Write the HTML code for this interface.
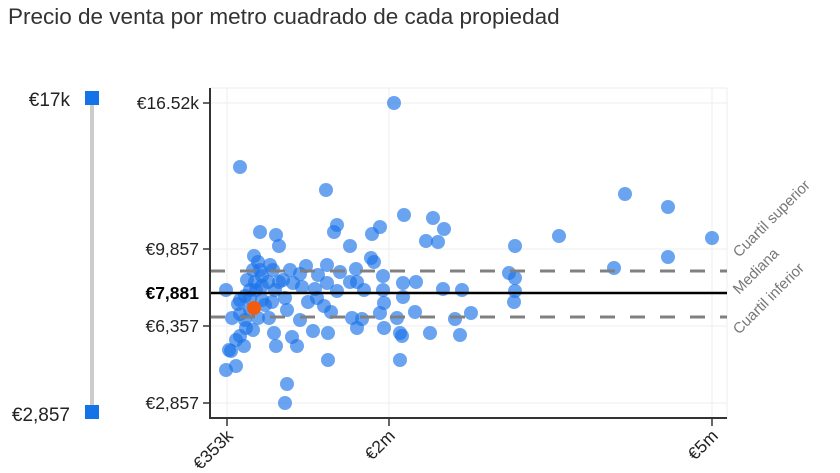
<!DOCTYPE html>
<html><head><style>
body{margin:0;background:#fff;width:840px;height:468px;overflow:hidden;font-family:"Liberation Sans",sans-serif}
</style></head><body>
<svg width="840" height="468" xmlns="http://www.w3.org/2000/svg" font-family="Liberation Sans, sans-serif">
<text x="8" y="24" font-size="22.5" fill="#333">Precio de venta por metro cuadrado de cada propiedad</text>
<!-- slider -->
<line x1="92" y1="98" x2="92" y2="412" stroke="#ccc" stroke-width="4"/>
<rect x="85" y="91" width="14" height="14" fill="#1473e6"/>
<rect x="85" y="405" width="14" height="14" fill="#1473e6"/>
<text x="70" y="106" font-size="19" fill="#222" text-anchor="end">€17k</text>
<text x="70" y="421" font-size="19" fill="#222" text-anchor="end">€2,857</text>
<!-- grid -->
<g stroke="#eee" stroke-width="1">
<line x1="210" y1="88" x2="727" y2="88"/>
<line x1="727" y1="88" x2="727" y2="418"/>
<line x1="210" y1="103" x2="727" y2="103"/>
<line x1="210" y1="249" x2="727" y2="249"/>
<line x1="210" y1="326" x2="727" y2="326"/>
<line x1="210" y1="403" x2="727" y2="403"/>
<line x1="227" y1="88" x2="227" y2="418"/>
<line x1="389" y1="88" x2="389" y2="418"/>
<line x1="712" y1="88" x2="712" y2="418"/>
</g>
<g fill="#1a73e8" fill-opacity="0.65">
<circle cx="394" cy="103" r="7"/><circle cx="240" cy="167" r="7"/><circle cx="326" cy="190" r="7"/><circle cx="404" cy="215" r="7"/><circle cx="433" cy="218" r="7"/><circle cx="444" cy="229" r="7"/><circle cx="337" cy="225" r="7"/><circle cx="334" cy="232" r="7"/><circle cx="260" cy="232" r="7"/><circle cx="276" cy="235" r="7"/><circle cx="279" cy="246" r="7"/><circle cx="350" cy="246" r="7"/><circle cx="372" cy="234" r="7"/><circle cx="426" cy="241" r="7"/><circle cx="438" cy="242" r="7"/><circle cx="515" cy="246" r="7"/><circle cx="559" cy="236" r="7"/><circle cx="625" cy="194" r="7"/><circle cx="668" cy="207" r="7"/><circle cx="712" cy="238" r="7"/><circle cx="668" cy="257" r="7"/><circle cx="614" cy="268" r="7"/><circle cx="509" cy="273" r="7"/><circle cx="515" cy="278" r="7"/><circle cx="515" cy="291" r="7"/><circle cx="514" cy="302" r="7"/><circle cx="443" cy="289" r="7"/><circle cx="462" cy="290" r="7"/><circle cx="471" cy="313" r="7"/><circle cx="455" cy="319" r="7"/><circle cx="460" cy="335" r="7"/><circle cx="430" cy="333" r="7"/><circle cx="415" cy="312" r="7"/><circle cx="403" cy="297" r="7"/><circle cx="416" cy="282" r="7"/><circle cx="383" cy="276" r="7"/><circle cx="383" cy="290" r="7"/><circle cx="384" cy="303" r="7"/><circle cx="380" cy="313" r="7"/><circle cx="357" cy="282" r="7"/><circle cx="374" cy="262" r="7"/><circle cx="371" cy="258" r="7"/><circle cx="356" cy="269" r="7"/><circle cx="350" cy="282" r="7"/><circle cx="364" cy="290" r="7"/><circle cx="337" cy="291" r="7"/><circle cx="327" cy="283" r="7"/><circle cx="315" cy="289" r="7"/><circle cx="317" cy="298" r="7"/><circle cx="331" cy="312" r="7"/><circle cx="352" cy="318" r="7"/><circle cx="362" cy="319" r="7"/><circle cx="357" cy="328" r="7"/><circle cx="384" cy="328" r="7"/><circle cx="397" cy="318" r="7"/><circle cx="400" cy="333" r="7"/><circle cx="402" cy="336" r="7"/><circle cx="400" cy="360" r="7"/><circle cx="328" cy="333" r="7"/><circle cx="328" cy="360" r="7"/><circle cx="306" cy="266" r="7"/><circle cx="300" cy="274" r="7"/><circle cx="302" cy="287" r="7"/><circle cx="293" cy="283" r="7"/><circle cx="290" cy="270" r="7"/><circle cx="283" cy="280" r="7"/><circle cx="273" cy="270" r="7"/><circle cx="268" cy="282" r="7"/><circle cx="262" cy="276" r="7"/><circle cx="258" cy="262" r="7"/><circle cx="260" cy="270" r="7"/><circle cx="256" cy="290" r="7"/><circle cx="262" cy="300" r="7"/><circle cx="275" cy="290" r="7"/><circle cx="279" cy="282" r="7"/><circle cx="285" cy="298" r="7"/><circle cx="287" cy="310" r="7"/><circle cx="269" cy="318" r="7"/><circle cx="274" cy="333" r="7"/><circle cx="276" cy="346" r="7"/><circle cx="292" cy="337" r="7"/><circle cx="297" cy="346" r="7"/><circle cx="300" cy="320" r="7"/><circle cx="313" cy="331" r="7"/><circle cx="250" cy="310" r="7"/><circle cx="245" cy="320" r="7"/><circle cx="258" cy="318" r="7"/><circle cx="240" cy="336" r="7"/><circle cx="244" cy="346" r="7"/><circle cx="231" cy="351" r="7"/><circle cx="226" cy="370" r="7"/><circle cx="236" cy="366" r="7"/><circle cx="229" cy="350" r="7"/><circle cx="226" cy="290" r="7"/><circle cx="232" cy="318" r="7"/><circle cx="246" cy="328" r="7"/><circle cx="240" cy="300" r="7"/><circle cx="265" cy="305" r="7"/><circle cx="247" cy="280" r="7"/><circle cx="253" cy="270" r="7"/><circle cx="254" cy="256" r="7"/><circle cx="287" cy="384" r="7"/><circle cx="285" cy="403" r="7"/><circle cx="327" cy="265" r="7"/><circle cx="318" cy="275" r="7"/><circle cx="340" cy="272" r="7"/><circle cx="245" cy="296" r="7"/><circle cx="250" cy="290" r="7"/><circle cx="238" cy="304" r="7"/><circle cx="250" cy="298" r="7"/><circle cx="240" cy="314" r="7"/><circle cx="272" cy="302" r="7"/><circle cx="262" cy="286" r="7"/><circle cx="255" cy="282" r="7"/><circle cx="270" cy="265" r="7"/><circle cx="308" cy="302" r="7"/><circle cx="324" cy="306" r="7"/><circle cx="380" cy="227" r="7"/><circle cx="403" cy="283" r="7"/><circle cx="236" cy="340" r="7"/><circle cx="253" cy="330" r="7"/>
</g>
<circle cx="254" cy="308" r="7" fill="#f35c0e"/>
<!-- reference lines -->
<line x1="210" y1="271" x2="727" y2="271" stroke="#808080" stroke-width="3" stroke-dasharray="15 15"/>
<line x1="210" y1="317" x2="727" y2="317" stroke="#808080" stroke-width="3" stroke-dasharray="15 15"/>
<line x1="210" y1="293" x2="727" y2="293" stroke="#000" stroke-width="2.5"/>
<g font-size="15" fill="#777">
<text transform="translate(739,258) rotate(-45)">Cuartil superior</text>
<text transform="translate(739,295) rotate(-45)">Mediana</text>
<text transform="translate(739,335) rotate(-45)">Cuartil inferior</text>
</g>
<!-- axes -->
<line x1="210" y1="88" x2="210" y2="419" stroke="#333" stroke-width="2"/>
<line x1="209" y1="418" x2="727" y2="418" stroke="#333" stroke-width="2"/>
<g stroke="#333" stroke-width="1.5">
<line x1="203" y1="103" x2="210" y2="103"/><line x1="203" y1="249" x2="210" y2="249"/><line x1="203" y1="326" x2="210" y2="326"/><line x1="203" y1="403" x2="210" y2="403"/>
<line x1="227" y1="418" x2="227" y2="426"/><line x1="389" y1="418" x2="389" y2="426"/><line x1="712" y1="418" x2="712" y2="426"/>
</g>
<g font-size="17.5" fill="#222" text-anchor="end">
<text x="199" y="109">€16.52k</text>
<text x="199" y="255">€9,857</text>
<text x="199" y="299" font-weight="bold" fill="#000">€7,881</text>
<text x="199" y="332">€6,357</text>
<text x="199" y="409">€2,857</text>
</g>
<g font-size="17.5" fill="#222" text-anchor="end">
<text transform="translate(234,437) rotate(-45)">€353k</text>
<text transform="translate(396,437) rotate(-45)">€2m</text>
<text transform="translate(719,437) rotate(-45)">€5m</text>
</g>
</svg>
</body></html>
